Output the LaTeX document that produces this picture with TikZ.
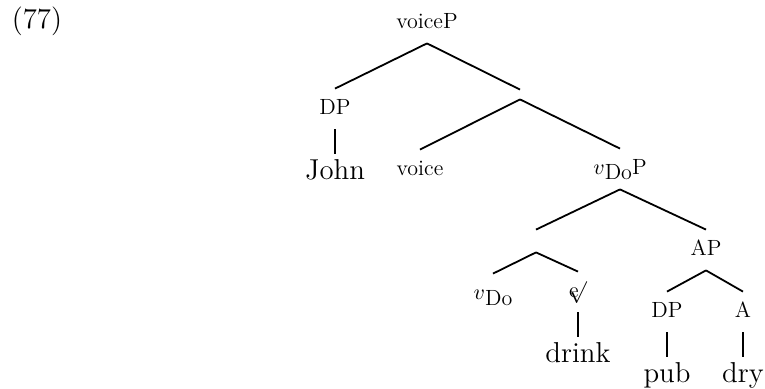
\documentclass[tikz,border=0pt]{standalone}
\usetikzlibrary{positioning}

\newcommand{\rootsym}{e\kern-0.45em$\surd$}
\newcommand{\vdo}{$v$\raisebox{-2.5pt}{Do}}

\begin{document}
\begin{tikzpicture}[
    x=0.5pt, y=-0.5pt,
    cat/.style={font=\fontsize{11}{13}\selectfont, inner xsep=1pt, inner ysep=6pt,
      text height=7pt, text depth=1pt},
    word/.style={font=\Large, inner xsep=1pt, inner ysep=3pt,
      text height=10pt, text depth=3pt},
    branch/.style={inner sep=0pt, minimum width=0pt},
    edge/.style={line width=0.9pt}
  ]
    \useasboundingbox (0,0) rectangle (765,389);
    \node[font=\Large] (ex) at (37,21) {(77)};
    % upper part
    \node[cat] (voicep) at (427,23) {voiceP};
    \node[cat] (dpsubj) at (335,109) {DP};
    \node[word] (john) at (335,173) {John};
    \node[branch, minimum height=4.5pt] (br1) at (520,94.5) {};
    \node[cat] (voice) at (420,170) {voice};
    \node[cat] (vdop) at (620,169) {\vdo P};
    % lower part
    \node[branch, minimum height=11pt] (br2) at (536,241) {};
    \node[cat] (ap) at (706,250) {AP};
    \node[cat] (vdo) at (493,294) {\vdo};
    \node[cat] (root) at (578,292) {\rootsym};
    \node[word] (drink) at (578,356) {drink};
    \node[cat] (dpobj) at (667,312) {DP};
    \node[cat] (adj) at (743,312) {A};
    \node[word] (pub) at (667,376) {pub};
    \node[word] (dry) at (743,376) {dry};
    \draw[edge] (voicep.south) -- (dpsubj.north);
    \draw[edge] (voicep.south) -- (br1.north);
    \draw[edge] (dpsubj.south) -- (john.north);
    \draw[edge] (br1.south) -- (voice.north);
    \draw[edge] (br1.south) -- (vdop.north);
    \draw[edge] (vdop.south) -- (br2.north);
    \draw[edge] (vdop.south) -- (ap.north);
    \draw[edge] (br2.south) -- (vdo.north);
    \draw[edge] (br2.south) -- (root.north);
    \draw[edge] (root.south) -- (drink.north);
    \draw[edge] (ap.south) -- (dpobj.north);
    \draw[edge] (ap.south) -- (adj.north);
    \draw[edge] (dpobj.south) -- (pub.north);
    \draw[edge] (adj.south) -- (dry.north);
  \end{tikzpicture}
\end{document}
